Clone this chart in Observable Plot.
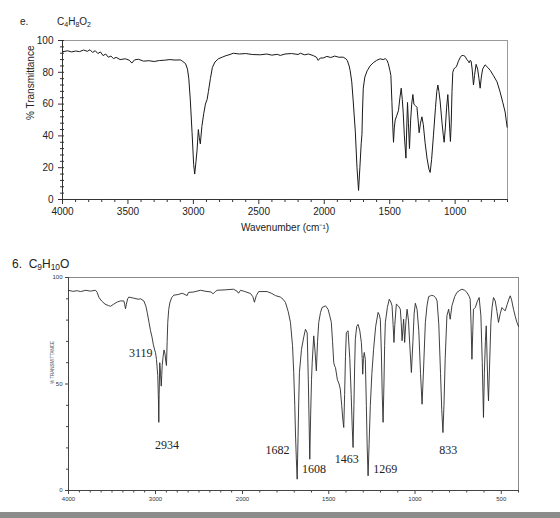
<!DOCTYPE html>
<html>
<head>
<meta charset="utf-8">
<script src="https://cdn.jsdelivr.net/npm/d3@7"></script>
<script src="https://cdn.jsdelivr.net/npm/@observablehq/plot@0.6"></script>
<style>
  body { margin: 0; background: #fff; }
  #wrap { position: relative; width: 560px; height: 518px; overflow: hidden; background: #fff; }
  .abs { position: absolute; }
  .ttl { font-family: "Liberation Sans", Arial, sans-serif; color: #222; white-space: nowrap; }
  .ttl sub { font-size: 0.7em; vertical-align: -0.25em; line-height: 0; }
</style>
</head>
<body>
<div id="wrap">
  <div id="top" class="abs" style="left:0;top:0"></div>
  <div id="bot" class="abs" style="left:0;top:250px"></div>
  <div class="abs ttl" style="left:20px;top:16px;font-size:10px;line-height:12px">e.</div>
  <div class="abs ttl" style="left:57px;top:16px;font-size:10px;line-height:12px">C<sub>4</sub>H<sub>8</sub>O<sub>2</sub></div>
  <div class="abs ttl" style="left:12px;top:257px;font-size:12px;line-height:14px">6.&nbsp; C<sub>9</sub>H<sub>10</sub>O</div>
  <div class="abs" style="left:0;top:512px;width:560px;height:6px;background:#8c8c8c"></div>
</div>
<script>
// ---------- Top spectrum (C4H8O2): [wavenumber, %T] ----------
const topSpectrum = [
[4000,93],[3960,93.5],[3930,92.8],[3900,93.4],[3870,93],[3840,94],[3810,93.2],[3790,94.2],[3770,92.5],[3750,93.6],[3730,91.8],[3710,92.8],[3690,90.5],[3670,91.5],[3650,89.5],[3630,90.2],[3610,88.6],[3590,89.4],[3560,88],[3520,88.5],[3490,87.6],[3470,85.8],[3450,87.8],[3420,88.2],[3380,87],[3340,87.3],[3300,86.8],[3260,87.4],[3220,87.6],[3180,88],[3140,87.7],[3100,87.8],[3084,87],[3060,85.5],[3045,82],[3035,76],[3023,62],[3010,42],[2998,22],[2990,16],[2980,24],[2972,31],[2962,44],[2955,39],[2947,35],[2935,46],[2921,54],[2908,60],[2895,63],[2885,68],[2870,76],[2855,83],[2835,86.5],[2809,88.5],[2780,89.5],[2750,90.5],[2720,91.2],[2695,92],[2650,91.5],[2600,91.8],[2550,91.2],[2489,91],[2440,91.5],[2400,90.8],[2360,91.3],[2336,90.6],[2300,91.5],[2250,91.8],[2200,91.2],[2183,92],[2150,91],[2120,91.5],[2084,90.5],[2060,89.5],[2046,87.5],[2030,89],[2008,89],[1980,90],[1950,89.3],[1920,90.2],[1890,89.5],[1855,89.5],[1835,88.5],[1824,87.4],[1810,84],[1802,81],[1790,74],[1779,62],[1763,43],[1750,20],[1738,5.7],[1728,20],[1718,35],[1712,41],[1708,55],[1702,70],[1690,77],[1672,81],[1650,84],[1626,86],[1600,87.5],[1573,88.5],[1550,88],[1534,88.6],[1520,87.5],[1511,85.5],[1498,81],[1491,78],[1483,61],[1476,45],[1471,36],[1465,45],[1458,50],[1445,53],[1433,56],[1422,64],[1412,70],[1404,63],[1397,55],[1388,40],[1376,26],[1370,45],[1364,61],[1357,48],[1349,32],[1340,50],[1332,60],[1323,66],[1315,60],[1304,59],[1292,58],[1283,50],[1275,42],[1265,48],[1254,52],[1243,47],[1230,36],[1215,26],[1200,19],[1191,17],[1180,25],[1166,40],[1150,58],[1140,68],[1132,72],[1124,68],[1115,62],[1100,48],[1090,40],[1084,36],[1075,45],[1065,58],[1056,66],[1048,55],[1040,42],[1036,36.5],[1030,48],[1024,68],[1018,80],[1010,82],[1000,83],[990,83.5],[975,87],[960,89.5],[949,90.6],[935,90.5],[924,90],[910,88],[900,87],[893,86],[885,87.5],[878,87],[870,82],[860,72],[852,78],[840,85],[828,82],[818,76],[809,70],[800,77],[790,82],[771,84.7],[750,83],[730,81],[708,78],[680,74],[656,67.5],[636,61],[618,55],[603,45.5]
];
const topXMajor = [4000, 3500, 3000, 2500, 2000, 1500, 1000];
const topXMinor = d3.range(3900, 599, -100).filter(d => d % 500 !== 0);
const topYMajor = [0, 20, 40, 60, 80, 100];
const topYMinor = d3.range(4, 100, 4).filter(d => d % 20 !== 0);
const topXLabel = "Wavenumber (cm\u207B\u00B9)";
const topYLabel = "% Transmittance";

// ---------- Bottom spectrum (C9H10O): [wavenumber, %T] ----------
const bottomSpectrum = [
[4000,94],[3950,93.5],[3900,93.8],[3862,93.4],[3800,94],[3750,93.6],[3690,94],[3670,93],[3652,90.8],[3620,89],[3580,87.5],[3540,86.8],[3517,86.5],[3480,87.5],[3440,88.5],[3402,89],[3364,89],[3355,87.5],[3345,85.3],[3335,87.5],[3320,90],[3307,90.8],[3250,90.3],[3200,89.8],[3172,90],[3134,89],[3110,86.5],[3095,83.5],[3075,79],[3057,75],[3040,72],[3026,68.7],[3010,66],[3000,64.8],[2989,61.6],[2974,54],[2966,42],[2962,32],[2958,45],[2951,60],[2942,55],[2934,49],[2928,54],[2923,58.7],[2912,63],[2902,66],[2890,64],[2880,60],[2874,58.7],[2866,70],[2859,79],[2848,85],[2836,88],[2815,90.5],[2790,91.7],[2740,92],[2693,92.6],[2660,92],[2636,91.5],[2621,93],[2560,93.2],[2483,94],[2420,93.5],[2360,93.2],[2340,92.3],[2333,92.5],[2310,93.5],[2291,94],[2200,94.2],[2103,94.5],[2060,93.5],[2046,92.6],[2023,94],[1990,93.5],[1954,92.5],[1940,91],[1931,88.4],[1920,91.5],[1906,93.4],[1857,93.4],[1830,92.5],[1809,91.5],[1780,90.8],[1765,89.8],[1751,88.3],[1735,84],[1722,78.9],[1710,68],[1703,55.4],[1697,40],[1693,27],[1688,15],[1683,5.3],[1678,25],[1674,42],[1670,55.4],[1658,66.3],[1645,72],[1635,75.7],[1625,74],[1618,50],[1613,28],[1610,14.7],[1605,35],[1600,52],[1596,60],[1587,72.6],[1580,66],[1572,56.2],[1565,70],[1558,78.9],[1548,83.5],[1539,85.9],[1519,86.7],[1504,85.1],[1494,82],[1485,78.9],[1478,70],[1471,60],[1466,58.5],[1461,57.7],[1450,52],[1440,50],[1433,47.6],[1425,40],[1418,33],[1413,29.6],[1408,45],[1403,63],[1398,74.2],[1388,75],[1378,62],[1370,45],[1364,30],[1359,20.2],[1354,40],[1350,58],[1346,71],[1338,77],[1330,78],[1320,75],[1311,69.5],[1306,62],[1303,54.6],[1299,62],[1294,64.8],[1288,61.6],[1282,40],[1277,20],[1272,6.9],[1266,22],[1259,40],[1250,55],[1240,66.3],[1228,77],[1214,83.6],[1207,82.5],[1201,80.4],[1195,65],[1190,45],[1185,32],[1180,50],[1176,68],[1172,78.9],[1160,86],[1149,89.8],[1140,88.5],[1133,86.7],[1127,78],[1122,69.5],[1117,78],[1108,87.5],[1095,86.5],[1085,85.1],[1080,79],[1075,70.3],[1070,76],[1066,80.4],[1060,69.5],[1053,79],[1046,85.1],[1038,80],[1030,68],[1021,55.4],[1012,70],[1005,83],[998,87.9],[988,85],[978,75],[968,55],[959,40.5],[950,58],[940,78.9],[930,87],[921,91],[905,91.6],[892,91.4],[880,90.5],[872,89],[862,78],[852,55],[845,38],[838,27.2],[832,40],[825,62],[815,82],[805,85.1],[796,80.4],[786,86.7],[770,91],[757,93],[740,94],[728,94.5],[712,94],[699,93],[685,91],[680,89.8],[675,78],[670,61.6],[665,75],[661,85.1],[650,86],[640,88.5],[628,90.6],[618,82],[610,60],[603,34.3],[598,55],[592,70],[587,77.3],[582,62],[578,50],[574,42.1],[568,58],[560,78.9],[553,86],[545,90.6],[535,89],[525,84],[516,78.9],[506,83],[496,85.9],[487,85],[477,84.4],[465,87.5],[455,90],[448,91.4],[440,89.5],[429,85.1],[418,81.5],[409,78.9],[400,77]
];
const botXMajor = [4000, 3000, 2000, 1500, 1000, 500];
const botXMinor = [...d3.range(3875, 2000, -125).filter(d => d !== 3000), ...d3.range(1900, 399, -100).filter(d => d % 500 !== 0)];
const botYMajor = [0, 50, 100];
const botYMinor = [10, 20, 30, 40, 60, 70, 80, 90];
const botYLabel = "% TRANSMITTANCE";
// peak annotations: [text, wavenumber, %T]
const peakLabelsLeft = [
  ["3119", 3034, 64.3]
];
const peakLabelsCentered = [
  ["2934", 2868, 21.1],
  ["1682", 1797, 18.8],
  ["1608", 1586, 9.9],
  ["1463", 1395, 14.6],
  ["1269", 1172, 9.9],
  ["833", 807, 18.8]
];

const topData = topSpectrum.map(([w, t]) => ({w, t}));
const botData = bottomSpectrum.map(([w, t]) => ({w, t}));
const leftLabels = peakLabelsLeft.map(([text, w, t]) => ({text, w, t}));
const midLabels = peakLabelsCentered.map(([text, w, t]) => ({text, w, t}));
const serif = "'Liberation Serif', 'Times New Roman', serif";

const topPlot = Plot.plot({
  width: 560, height: 240,
  marginLeft: 62, marginRight: 53, marginTop: 40, marginBottom: 41,
  x: {domain: [4000, 600]},
  y: {domain: [0, 100]},
  style: {fontFamily: "'Liberation Sans', Arial, sans-serif", fontSize: "10px", color: "#222", background: "transparent"},
  marks: [
    Plot.frame({stroke: "#9a9a9a"}),
    Plot.ruleX([4000], {stroke: "#333"}),
    Plot.ruleY([0], {stroke: "#333"}),
    Plot.axisX({ticks: topXMajor, tickSize: 5, tickPadding: 3, tickFormat: d => String(d), label: null, stroke: "#333"}),
    Plot.axisX({ticks: topXMinor, tickSize: 3, text: null, label: null, stroke: "#333"}),
    Plot.axisY({ticks: topYMajor, tickSize: 6, tickPadding: 5, dx: 2, tickFormat: d => String(d), label: null, stroke: "#333"}),
    Plot.axisY({ticks: topYMinor, tickSize: 4, dx: 2, text: null, label: null, stroke: "#333"}),
    Plot.line(topData, {x: "w", y: "t", stroke: "#1a1a1a", strokeWidth: 1}),
    Plot.text([topXLabel], {text: d => d, frameAnchor: "bottom", dy: 31, fontSize: 10}),
    Plot.text([topYLabel], {text: d => d, frameAnchor: "left", dx: -32, rotate: -90, fontSize: 10})
  ]
});
document.getElementById("top").appendChild(topPlot);

const botPlot = Plot.plot({
  width: 560, height: 268,
  marginLeft: 68, marginRight: 42, marginTop: 27, marginBottom: 28,
  x: {type: "linear", domain: [4000, 2000, 400], range: [68, 242, 518]},
  y: {domain: [0, 100]},
  style: {fontFamily: "'Liberation Sans', Arial, sans-serif", fontSize: "6px", color: "#333", background: "transparent"},
  marks: [
    Plot.frame({stroke: "#8a8a8a"}),
    Plot.ruleX([4000], {stroke: "#444"}),
    Plot.ruleY([0], {stroke: "#444"}),
    Plot.axisX({ticks: botXMajor, tickSize: 4, tickPadding: 2, tickFormat: d => String(d), label: null, stroke: "#444", fontSize: 6}),
    Plot.axisX({ticks: botXMinor, tickSize: 2.5, text: null, label: null, stroke: "#444"}),
    Plot.axisY({ticks: botYMajor, tickSize: 3, tickPadding: 3, tickFormat: d => String(d), label: null, stroke: "#444", fontSize: 6}),
    Plot.axisY({ticks: botYMinor, tickSize: 2, text: null, label: null, stroke: "#444"}),
    Plot.text([botYLabel], {text: d => d, frameAnchor: "left", dx: -16, rotate: -90, fontSize: 4.5, fill: "#555"}),
    Plot.line(botData, {x: "w", y: "t", stroke: "#2a2a2a", strokeWidth: 0.9}),
    Plot.text(leftLabels, {x: "w", y: "t", text: "text", textAnchor: "end", fontFamily: serif, fontSize: 12, fill: "#222"}),
    Plot.text(midLabels, {x: "w", y: "t", text: "text", textAnchor: "middle", fontFamily: serif, fontSize: 12, fill: "#222"})
  ]
});
document.getElementById("bot").appendChild(botPlot);
</script>
</body>
</html>
